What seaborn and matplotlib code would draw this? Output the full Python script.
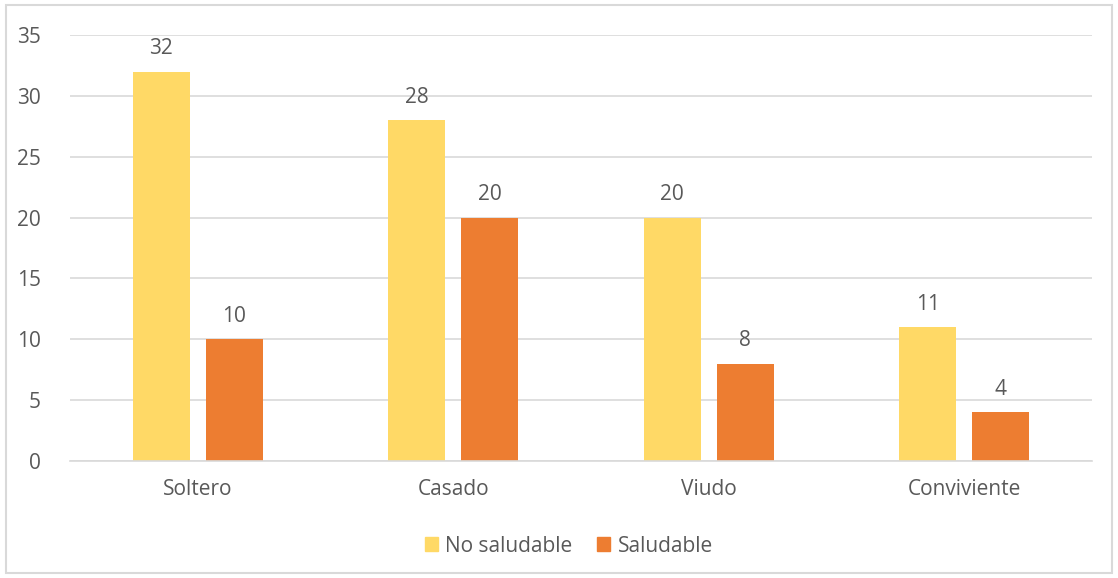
import matplotlib
matplotlib.use("Agg")
import matplotlib.pyplot as plt
import seaborn as sns
import pandas as pd
from matplotlib.patches import Rectangle

categories = ["Soltero", "Casado", "Viudo", "Conviviente"]
no_saludable = [32, 28, 20, 11]
saludable = [10, 20, 8, 4]
series_names = ["No saludable", "Saludable"]
y_ticks = [0, 5, 10, 15, 20, 25, 30, 35]

df = pd.DataFrame({
    "Estado": categories * 2,
    "Valor": no_saludable + saludable,
    "Serie": [series_names[0]] * len(categories) + [series_names[1]] * len(categories),
})

sns.set_theme(style="white")
plt.rcParams["font.family"] = ["Open Sans", "DejaVu Sans"]
text_color = "#595959"
fs = 15

fig = plt.figure(figsize=(11.18, 5.78), dpi=100)
ax = fig.add_axes([70 / 1118, 117 / 578, 1022 / 1118, 426 / 578])

palette = {"No saludable": "#FFD966", "Saludable": "#ED7D31"}
sns.barplot(data=df, x="Estado", y="Valor", hue="Serie", palette=palette,
            width=0.571, gap=0.22, ax=ax, legend=False, saturation=1, linewidth=0)

ax.set_ylim(0, 35)
ax.set_xlim(-0.5, len(categories) - 0.5)
ax.set_yticks(y_ticks)
ax.yaxis.grid(True, color="#D9D9D9", linewidth=1.2)
ax.set_axisbelow(True)
for side in ["top", "right", "left"]:
    ax.spines[side].set_visible(False)
ax.spines["bottom"].set_color("#D9D9D9")
ax.spines["bottom"].set_linewidth(1.2)
ax.set_xlabel("")
ax.set_ylabel("")
ax.tick_params(axis="both", length=0, labelsize=fs, labelcolor=text_color)
ax.tick_params(axis="x", pad=13)
ax.tick_params(axis="y", pad=21)

for container in ax.containers:
    ax.bar_label(container, padding=9, fontsize=fs, color=text_color)

handles = [Rectangle((0, 0), 1, 1, color=palette[n]) for n in series_names]
fig.legend(handles, series_names, loc="center", bbox_to_anchor=(569 / 1118, 1 - 546 / 578),
           ncol=2, frameon=False, fontsize=fs, labelcolor=text_color,
           handlelength=0.62, handleheight=0.62, handletextpad=0.35, columnspacing=1.2)

# outer chart border
fig.add_artist(Rectangle((6 / 1118, 5 / 578), 1106 / 1118, 568 / 578,
                         transform=fig.transFigure, fill=False,
                         edgecolor="#D9D9D9", linewidth=1.5))

fig.savefig("out.png", dpi=100)
